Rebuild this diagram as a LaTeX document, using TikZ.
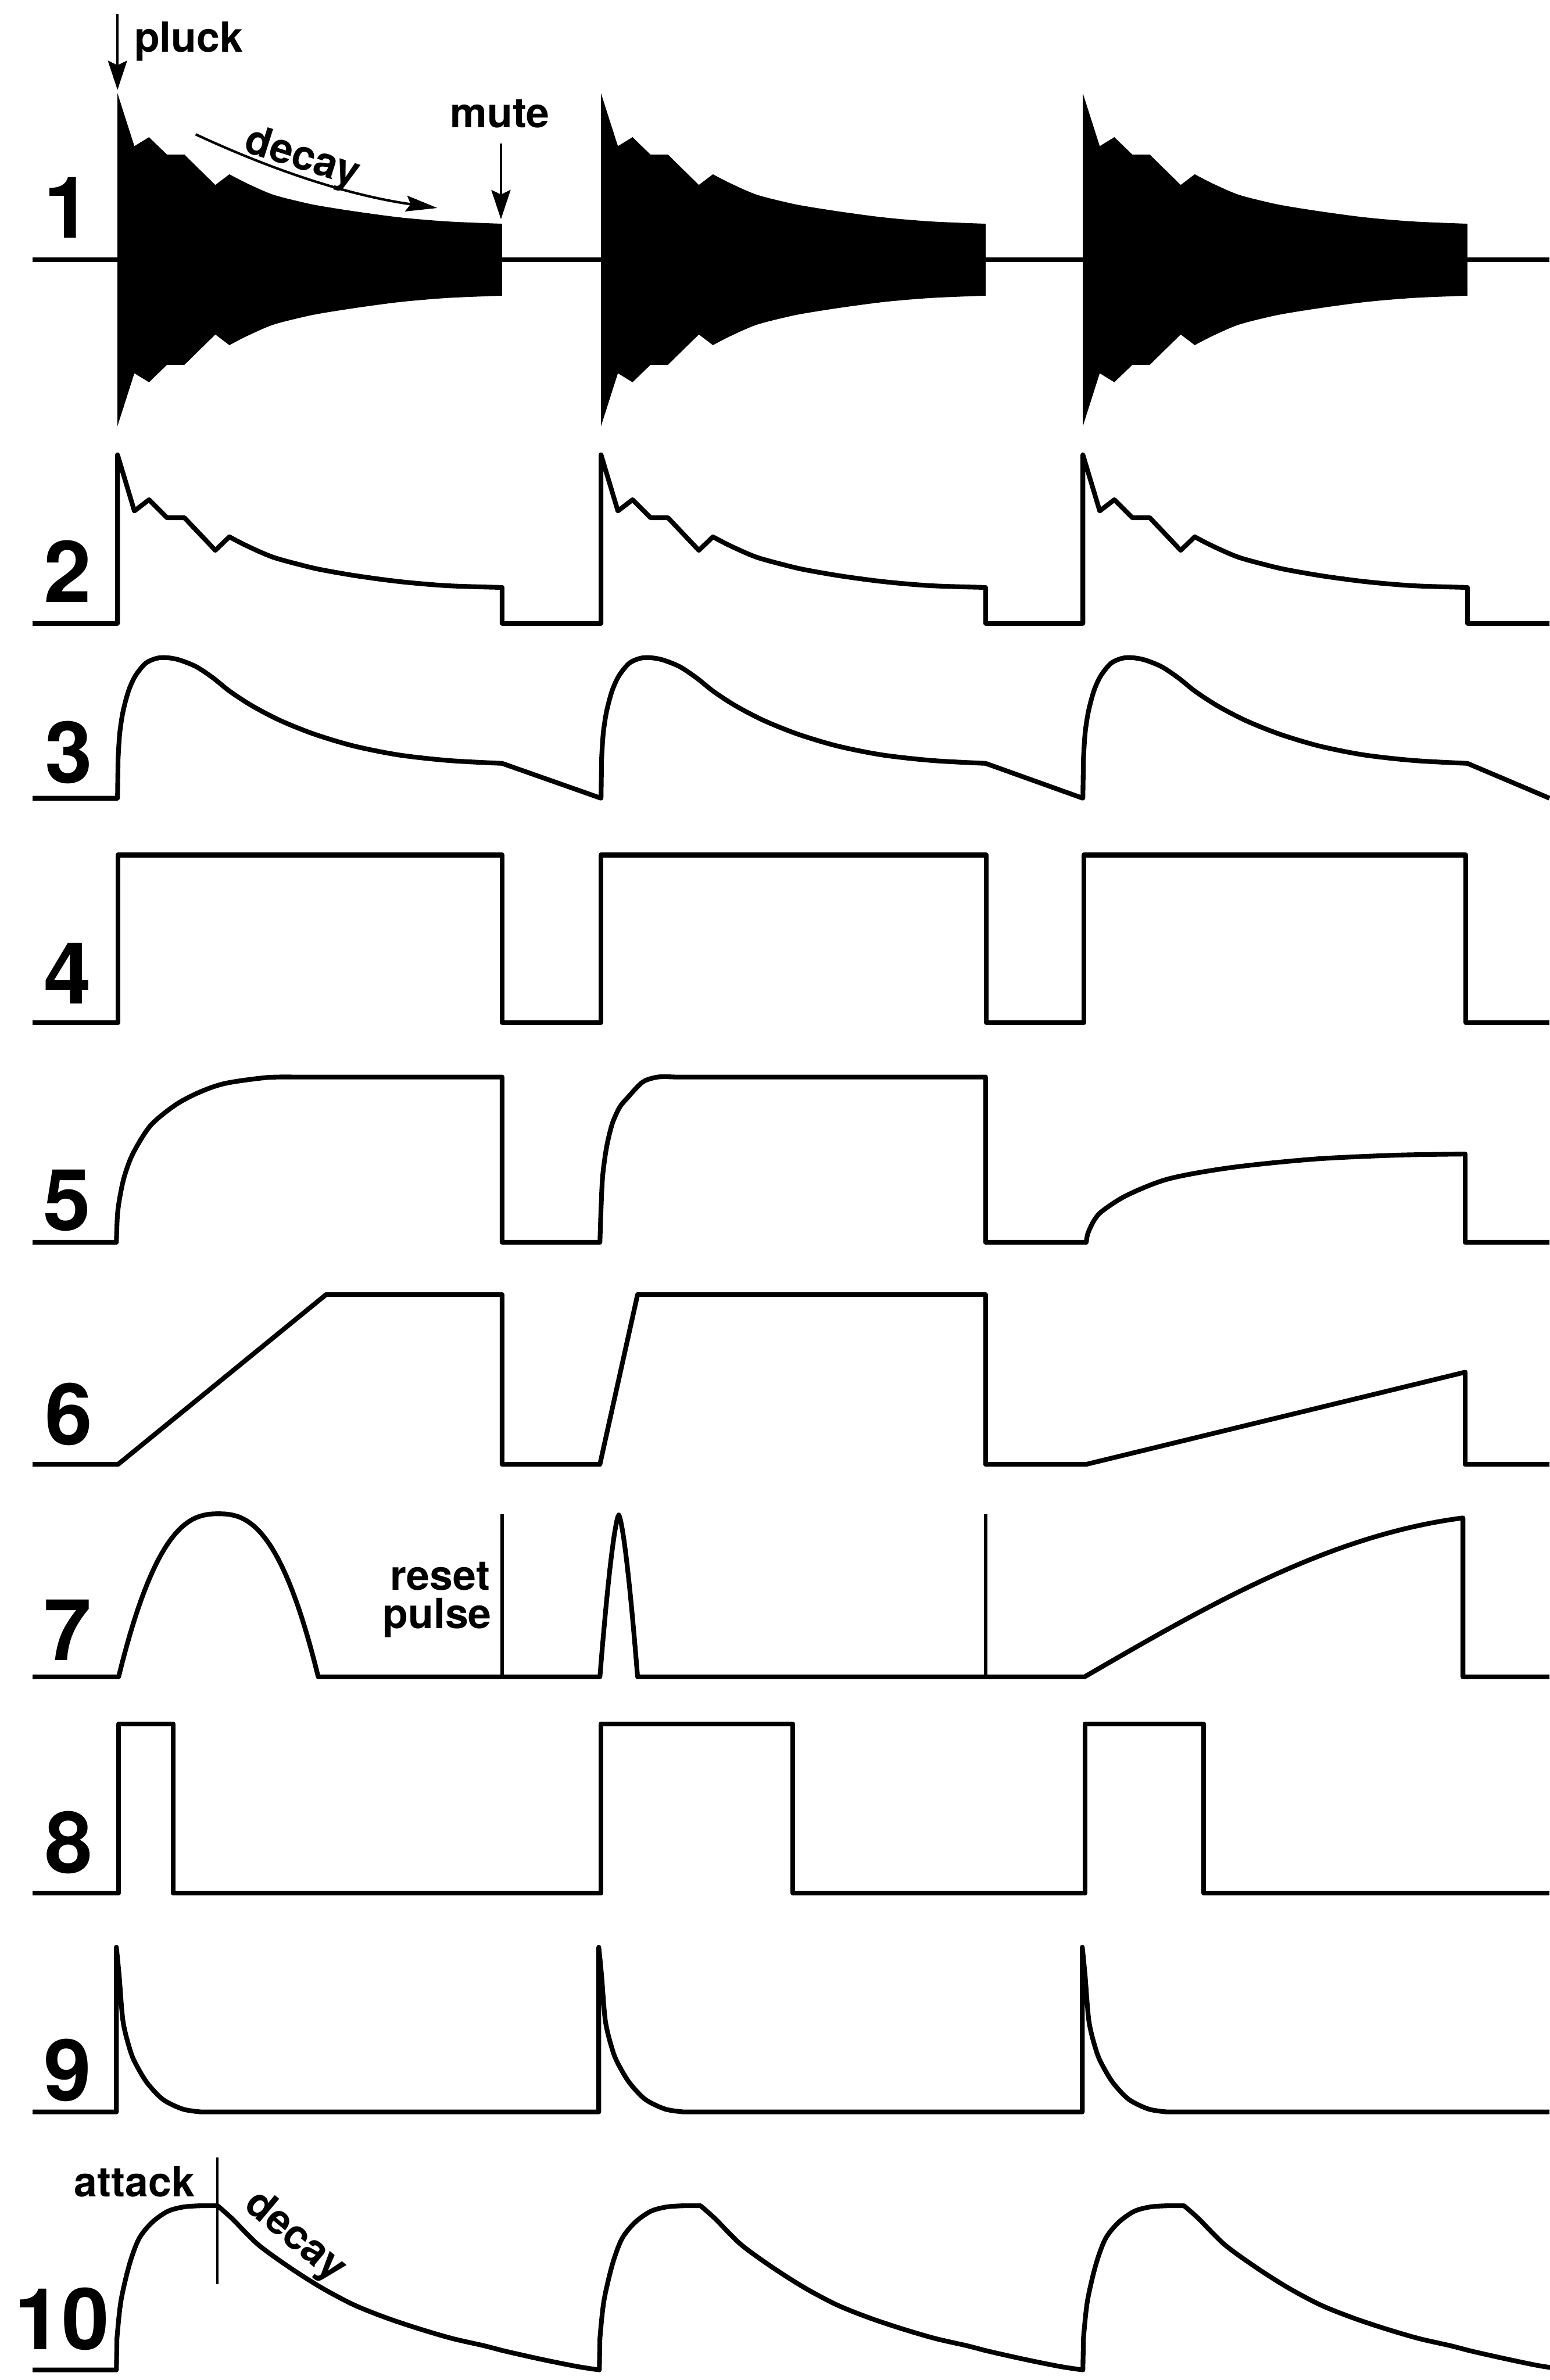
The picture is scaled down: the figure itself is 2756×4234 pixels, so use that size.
\documentclass[tikz,border=0pt]{standalone}
\usepackage{fontspec}
\setmainfont{TeX Gyre Heros}
\usetikzlibrary{arrows.meta}
\begin{document}
\begin{tikzpicture}[x=0.25pt,y=-0.25pt,
  wave/.style={line width=2.1pt, line join=round},
  thinline/.style={line width=1pt},
  resetline/.style={line width=1.5pt},
  lbl/.style={font=\bfseries\fontsize{18.5}{22}\selectfont, inner sep=0pt},
  rownum/.style={font=\bfseries\fontsize{38}{45}\selectfont, inner sep=0pt, anchor=base east},
  arrowline/.style={-{Stealth[length=13pt,width=8.5pt,inset=2pt]}}
]
\useasboundingbox (0,0) rectangle (2756,4234);

% ---------- row numbers ----------
\node[rownum] (n1) at (163,423) {1};
\node[rownum] (n2) at (163,1071) {2};
\node[rownum] (n3) at (165,1393) {3};
\node[rownum] (n4) at (163,1786) {4};
\node[rownum] (n5) at (162,2189) {5};
\node[rownum] (n6) at (165,2570) {6};
\node[rownum] (n7) at (163,2954) {7};
\node[rownum] (n8) at (165,3332) {8};
\node[rownum] (n9) at (163,3737) {9};
\node[rownum] (n10) at (195,4180) {10};

% ---------- row 1: plucked string bursts ----------
\foreach \t in {209,1069,1926}{
 \fill (\t,166) -- ({\t+30},260) -- ({\t+56},244) -- ({\t+88},275) -- ({\t+119},275) -- ({\t+174},329)
  -- plot[smooth] coordinates {({\t+199},310) ({\t+230},326) ({\t+276},346) ({\t+330},360) ({\t+365},367) ({\t+429},377) ({\t+505},387) ({\t+588},394) ({\t+684},398)}
  -- ({\t+684},526)
  -- plot[smooth] coordinates {({\t+684},526) ({\t+588},530) ({\t+505},537) ({\t+429},547) ({\t+365},557) ({\t+330},564) ({\t+276},578) ({\t+230},598) ({\t+199},614)}
  -- ({\t+174},595) -- ({\t+119},649) -- ({\t+88},649) -- ({\t+56},680) -- ({\t+30},664) -- (\t,758) -- cycle;
}
\draw[wave] (58,462) -- (2756,462);

\node[lbl, anchor=base west] (pluck) at (238,92) {pluck};
\node[lbl, anchor=base west] (mute) at (800,227) {mute};
\node[lbl, rotate=-17.6] (decayA) at (537,283) {decay};
\coordinate (pluckA) at (209,25);
\coordinate (pluckB) at (209,160);
\draw[thinline, arrowline] (pluckA) -- (pluckB);
\coordinate (muteA) at (891,255);
\coordinate (muteB) at (891,390);
\draw[thinline, arrowline] (muteA) -- (muteB);
\coordinate (decS) at (348,239);
\coordinate (decE) at (778,370);
\draw[line width=1.1pt, -{Stealth[length=14pt,width=7pt,inset=2pt]}] (decS) .. controls (490,305) and (623,348) .. (decE);

% ---------- row 2: envelope ----------
\draw[wave] (58,1109) \foreach \t in {209,1069,1926}{
  -- (\t,1109) -- (\t,809) -- ({\t+30},909) -- ({\t+56},889) -- ({\t+88},921) -- ({\t+119},921) -- ({\t+174},979)
  -- plot[smooth] coordinates {({\t+199},955) ({\t+230},971) ({\t+276},991) ({\t+330},1006) ({\t+365},1014) ({\t+429},1025) ({\t+505},1035) ({\t+588},1042) ({\t+684},1045)}
  -- ({\t+684},1109) } -- (2756,1109);

% ---------- row 3 ----------
\draw[wave] (58,1420) \foreach \t/\n in {209/1069,1069/1926,1926/2756}{
  -- (\t,1420) -- ({\t+1},1350)
  -- plot[smooth] coordinates {({\t+1},1350) ({\t+4},1304) ({\t+10},1265) ({\t+20},1228) ({\t+32},1202) ({\t+50},1180) ({\t+70},1171) ({\t+88},1170) ({\t+110},1174) ({\t+140},1186) ({\t+170},1206) ({\t+200},1230) ({\t+240},1256) ({\t+290},1282) ({\t+350},1306) ({\t+420},1327) ({\t+500},1343) ({\t+590},1353) ({\t+684},1358)}
  -- (\n,1420) };

% ---------- row 4 ----------
\draw[wave] (58,1819) -- (210,1819) -- (210,1521) -- (893,1521) -- (893,1819) -- (1069,1819) -- (1069,1521) -- (1754,1521) -- (1754,1819) -- (1928,1819) -- (1928,1521) -- (2607,1521) -- (2607,1819) -- (2756,1819);

% ---------- row 5 ----------
\draw[wave] (58,2210) -- (207,2210)
  -- plot[smooth] coordinates {(207,2210) (209,2160) (214,2125) (222,2090) (237,2051) (268,2002) (313,1965) (357,1942) (402,1927) (473,1917) (520,1916)}
  -- (893,1916) -- (893,2210) -- (1067,2210)
  -- plot[smooth] coordinates {(1067,2210) (1069,2150) (1072,2091) (1079,2040) (1089,1999) (1102,1970) (1116,1953) (1143,1925) (1170,1916) (1200,1916)}
  -- (1753,1916) -- (1753,2210) -- (1932,2210)
  -- plot[smooth] coordinates {(1932,2210) (1935,2194) (1946,2171) (1961,2154) (2005,2126) (2079,2097) (2190,2077) (2337,2062) (2484,2055) (2606,2053)}
  -- (2606,2210) -- (2756,2210);

% ---------- row 6 ----------
\draw[wave] (58,2605) -- (210,2605) -- (580,2303) -- (893,2303) -- (893,2605) -- (1067,2605) -- (1134,2303) -- (1753,2303) -- (1753,2605) -- (1932,2605) -- (2606,2441) -- (2606,2605) -- (2756,2605);

% ---------- row 7 ----------
\draw[wave] (58,2983) -- (211,2983)
  -- plot[domain=0:355, samples=71] ({211+\x},{2983-290*(1-(abs(1-2*\x/355)+0.00001)^2.5)})
  -- (1067,2983)
  -- plot[domain=0:67, samples=41] ({1067+\x},{2983-288*(1-(abs(1-2*\x/67)+0.00001)^1.45)})
  -- (1929,2983)
  -- plot[domain=0:673, samples=60] ({1929+\x},{2983-290*sin(0.1146*\x)})
  -- (2602,2983) -- (2756,2983);
\coordinate (r1a) at (893,2983);
\coordinate (r1b) at (893,2694);
\coordinate (r2a) at (1753,2983);
\coordinate (r2b) at (1753,2694);
\draw[resetline] (r1a) -- (r1b);
\draw[resetline] (r2a) -- (r2b);
\node[lbl, anchor=base east] (reset) at (872,2829) {reset};
\node[lbl, anchor=base east] (pulse) at (875,2897) {pulse};

% ---------- row 8 ----------
\draw[wave] (58,3368) -- (211,3368) -- (211,3067) -- (308,3067) -- (308,3368) -- (1069,3368) -- (1069,3067) -- (1410,3067) -- (1410,3368) -- (1930,3368) -- (1930,3067) -- (2141,3067) -- (2141,3368) -- (2756,3368);

% ---------- row 9 ----------
\draw[wave] (58,3757) \foreach \t in {207,1065,1925}{
  -- (\t,3757) -- (\t,3464)
  -- plot[smooth] coordinates {(\t,3464) ({\t+5},3515) ({\t+12},3597) ({\t+26},3652) ({\t+39},3680) ({\t+56},3707) ({\t+83},3735) ({\t+118},3752) ({\t+150},3757)} } -- (2756,3757);

% ---------- row 10 ----------
\draw[wave] (58,4216) \foreach \t/\n in {207/1066,1066/1926,1926/2800}{
  -- (\t,4216) -- ({\t+1},4160)
  -- plot[smooth] coordinates {({\t+1},4160) ({\t+8},4094) ({\t+23},4029) ({\t+40},3983) ({\t+63},3954) ({\t+91},3934) ({\t+120},3926) ({\t+150},3924)}
  -- ({\t+180},3924)
  -- plot[smooth] coordinates {({\t+180},3924) ({\t+206},3947) ({\t+252},3993) ({\t+310},4035) ({\t+367},4071) ({\t+424},4101) ({\t+482},4124) ({\t+539},4143) ({\t+597},4160) ({\t+654},4173) ({\t+693},4183) ({\t+760},4198) ({\t+820},4210) (\n,4216)} };
\coordinate (atkA) at (387,3838);
\coordinate (atkB) at (387,4063);
\draw[thinline] (atkA) -- (atkB);
\node[lbl, anchor=base west] (attack) at (131,3908) {attack};
\node[lbl, rotate=-40] (decayB) at (524,3980) {decay};
\end{tikzpicture}
\end{document}
